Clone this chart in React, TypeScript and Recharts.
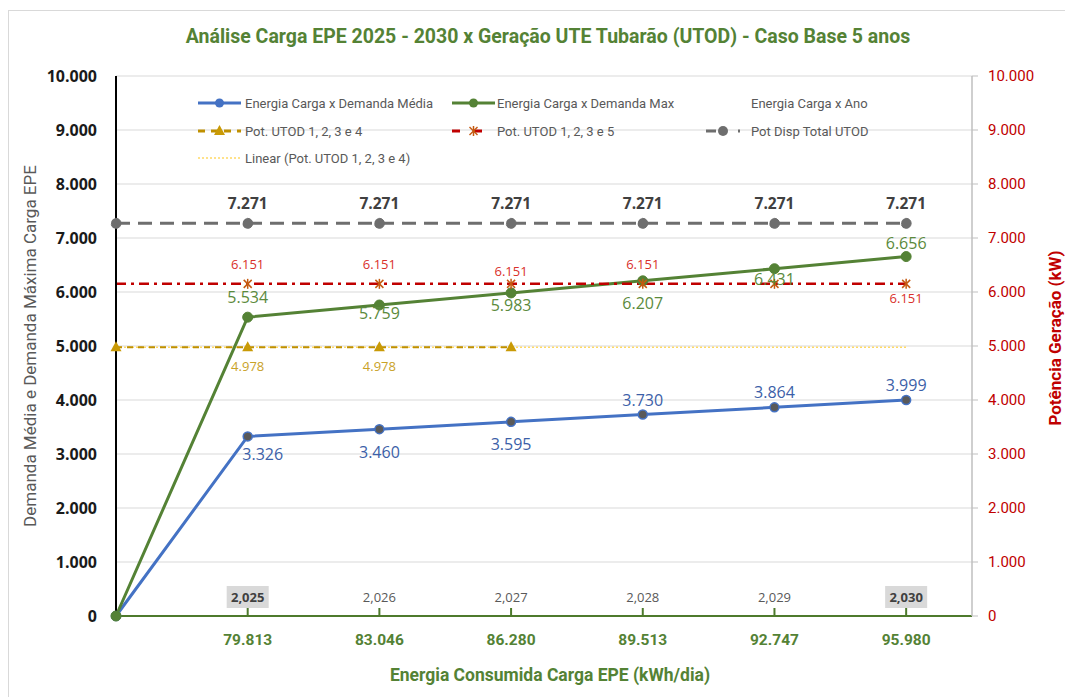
import {
  ComposedChart,
  Line,
  XAxis,
  YAxis,
  CartesianGrid,
  Legend,
  LabelList,
  Label,
} from "recharts";

// eixo X (energia consumida kWh/dia) e anos
const energia = ["0", "79.813", "83.046", "86.280", "89.513", "92.747", "95.980"];
const anos = [null, "2,025", "2,026", "2,027", "2,028", "2,029", "2,030"];

// séries
const demandaMedia = [0, 3326, 3460, 3595, 3730, 3864, 3999];
const demandaMax = [0, 5534, 5759, 5983, 6207, 6431, 6656];
const potUtod1234 = [4978, 4978, 4978, 4978, null, null, null];
const linearUtod1234 = [4978, 4978, 4978, 4978, 4978, 4978, 4978];
const potUtod1235 = [6151, 6151, 6151, 6151, 6151, 6151, 6151];
const potDispTotal = [7271, 7271, 7271, 7271, 7271, 7271, 7271];

const yTicks = [0, 1000, 2000, 3000, 4000, 5000, 6000, 7000, 8000, 9000, 10000];

// label placement per point (px, negative = above the point, null = no label)
const offMedia = [null, 18, 23, 22, -15, -15, -15];
const dxMedia = [0, 15, 0, 0, 0, 0, 0];
const offMax = [null, -20, 8, 12, 22, 10, -14];
const off1235 = [null, -20, -20, -13, -20, null, 14];
const off1234 = [null, 19, 19, null, null, null, null];
const offDisp = [null, -20, -20, -20, -20, -20, -20];
const anoDestaque = [false, true, false, false, false, false, true];

const TXT = "Roboto, 'Noto Sans', sans-serif";
const NUM = "'Open Sans', 'Noto Sans', sans-serif";

const fmt = (v: number) => String(v).replace(/\B(?=(\d{3})+(?!\d))/g, ".");

const data = energia.map((e, i) => ({
  idx: i,
  energia: e,
  media: demandaMedia[i],
  max: demandaMax[i],
  utod4: potUtod1234[i],
  trend: linearUtod1234[i],
  utod5: potUtod1235[i],
  disp: potDispTotal[i],
  ano: anos[i] === null ? null : 0,
}));

const getXY = (p: any) => {
  const vb = p.viewBox || {};
  return { x: p.x ?? vb.x, y: p.y ?? vb.y };
};

const makeLabel =
  (offs: (number | null)[], color: string, size: number, weight = "normal", dxs?: number[]) =>
  (p: any) => {
    const i = p.index;
    const off = offs[i];
    if (off == null || p.value == null) return null;
    const { x, y } = getXY(p);
    return (
      <text
        x={x + (dxs ? dxs[i] : 0)}
        y={y + off}
        textAnchor="middle"
        dominantBaseline="central"
        fill={color}
        fontSize={size}
        fontWeight={weight}
        fontFamily={NUM}
      >
        {fmt(p.value)}
      </text>
    );
  };

const anoLabel = (p: any) => {
  const i = p.index;
  if (anos[i] == null) return null;
  const { x, y } = getXY(p);
  const bold = anoDestaque[i];
  return (
    <g>
      {bold && <rect x={x - 21} y={y - 30} width={42} height={22} fill="#D9D9D9" />}
      <text
        x={x}
        y={y - 19}
        textAnchor="middle"
        dominantBaseline="central"
        fill={bold ? "#404040" : "#595959"}
        fontSize={13}
        fontWeight={bold ? "bold" : "normal"}
        fontFamily={NUM}
      >
        {anos[i]}
      </text>
    </g>
  );
};

const XTick = (props: any) => {
  const { x, y, payload } = props;
  return (
    <g>
      <line x1={x} x2={x} y1={y} y2={y - 8} stroke="#4E7A2C" strokeWidth={2} />
      <text
        x={x}
        y={y + 24}
        textAnchor="middle"
        dominantBaseline="central"
        fill="#548235"
        fontSize={15.5}
        fontWeight="bold"
        fontFamily={TXT}
      >
        {energia[payload.value]}
      </text>
    </g>
  );
};

const Asterisk = ({ cx, cy }: { cx: number; cy: number }) => (
  <g stroke="#C55A11" strokeWidth={1.5}>
    <line x1={cx - 4} y1={cy - 4} x2={cx + 4} y2={cy + 4} />
    <line x1={cx - 4} y1={cy + 4} x2={cx + 4} y2={cy - 4} />
    <line x1={cx} y1={cy - 5} x2={cx} y2={cy + 5} />
  </g>
);

const Triangle = ({ cx, cy }: { cx: number; cy: number }) => (
  <path d={`M${cx},${cy - 6} L${cx + 5.5},${cy + 4} L${cx - 5.5},${cy + 4} Z`} fill="#C99A06" />
);

const legendItems = [
  { name: "Energia Carga x Demanda Média", color: "#4472C4", dash: "", mark: "dotBlue" },
  { name: "Energia Carga x Demanda Max", color: "#548235", dash: "", mark: "dotGreen" },
  { name: "Energia Carga x Ano", color: "none", dash: "", mark: "none" },
  { name: "Pot. UTOD 1, 2, 3 e 4", color: "#BF9000", dash: "7 6", mark: "tri" },
  { name: "Pot. UTOD 1, 2, 3 e 5", color: "#C00000", dash: "8 14", mark: "star" },
  { name: "Pot Disp Total UTOD", color: "#6E6E6E", dash: "10 22", mark: "dotGray" },
  { name: "Linear (Pot. UTOD 1, 2, 3 e 4)", color: "#FFD966", dash: "2 2", mark: "none" },
];

const LegendBox = () => {
  const colX = [8, 262, 516];
  const textX = [55, 307, 561];
  const rowY = [13, 41, 68];
  return (
    <svg width={720} height={80} style={{ display: "block", overflow: "visible" }}>
      {legendItems.map((it, i) => {
        const c = i % 3;
        const r = Math.floor(i / 3);
        const x0 = colX[c];
        const x1 = x0 + (c === 2 ? 34 : 43);
        const y = rowY[r];
        const mid = (x0 + x1) / 2;
        return (
          <g key={it.name}>
            {it.color !== "none" && (
              <line
                x1={x0}
                x2={x1}
                y1={y}
                y2={y}
                stroke={it.color}
                strokeWidth={it.dash === "2 2" ? 1.5 : 3}
                strokeDasharray={it.dash || undefined}
              />
            )}
            {it.mark === "dotBlue" && <circle cx={mid} cy={y} r={4.5} fill="#4472C4" />}
            {it.mark === "dotGreen" && <circle cx={mid} cy={y} r={4.5} fill="#548235" />}
            {it.mark === "dotGray" && <circle cx={mid} cy={y} r={5} fill="#6E6E6E" />}
            {it.mark === "tri" && <Triangle cx={mid} cy={y} />}
            {it.mark === "star" && <Asterisk cx={mid} cy={y} />}
            <text
              x={textX[c]}
              y={y}
              dominantBaseline="central"
              fill="#595959"
              fontSize={13}
              fontFamily={TXT}
            >
              {it.name}
            </text>
          </g>
        );
      })}
    </svg>
  );
};

export default function App() {
  return (
    <div style={{ position: "absolute", left: 0, top: 0, width: 1065, height: 697, background: "#fff" }}>
      <div
        style={{
          position: "absolute",
          left: 8,
          top: 10,
          width: 1057,
          height: 687,
          borderLeft: "1px solid #D9D9D9",
          borderTop: "1px solid #D9D9D9",
          boxSizing: "border-box",
        }}
      />
      <div
        style={{
          position: "absolute",
          left: 0,
          top: 25,
          width: 1096,
          textAlign: "center",
          color: "#548235",
          fontFamily: TXT,
          fontWeight: "bold",
          fontSize: 19.5,
        }}
      >
        Análise Carga EPE 2025 - 2030 x Geração UTE Tubarão (UTOD) - Caso Base 5 anos
      </div>
      <ComposedChart
        width={1065}
        height={697}
        data={data}
        margin={{ top: 76, right: 0, bottom: 0, left: 0 }}
        style={{ position: "absolute", left: 0, top: 0 }}
      >
        <CartesianGrid yAxisId="left" vertical={false} stroke="#D9D9D9" strokeWidth={1.2} />
        <XAxis
          dataKey="idx"
          type="number"
          domain={[0, 6.5]}
          ticks={[1, 2, 3, 4, 5, 6]}
          interval={0}
          height={81}
          tickSize={0}
          tickMargin={0}
          tickLine={false}
          axisLine={{ stroke: "#4E7A2C", strokeWidth: 2 }}
          tick={<XTick />}
        >
          <Label
            content={() => (
              <text
                x={550}
                y={675}
                textAnchor="middle"
                dominantBaseline="central"
                fill="#548235"
                fontSize={17.5}
                fontWeight="bold"
                fontFamily={TXT}
              >
                Energia Consumida Carga EPE (kWh/dia)
              </text>
            )}
          />
        </XAxis>
        <YAxis
          yAxisId="left"
          domain={[0, 10000]}
          ticks={yTicks}
          width={116}
          tickSize={0}
          tickMargin={19}
          tickLine={false}
          axisLine={{ stroke: "#000", strokeWidth: 2 }}
          tickFormatter={fmt}
          tick={{ fill: "#1A1A1A", fontSize: 16, fontWeight: "bold", fontFamily: NUM }}
        >
          <Label
            content={(p: any) => {
              const vb = p.viewBox;
              const cy = vb.y + vb.height / 2;
              return (
                <text
                  x={30}
                  y={cy}
                  transform={`rotate(-90 30 ${cy})`}
                  textAnchor="middle"
                  dominantBaseline="central"
                  fill="#595959"
                  fontSize={17}
                  fontFamily={TXT}
                >
                  Demanda Média e Demanda Máxima Carga EPE
                </text>
              );
            }}
          />
        </YAxis>
        <YAxis
          yAxisId="right"
          orientation="right"
          domain={[0, 10000]}
          ticks={yTicks}
          width={93}
          tickSize={6}
          tickMargin={10}
          tickLine={{ stroke: "#BFBFBF" }}
          axisLine={{ stroke: "#BFBFBF", strokeWidth: 1.5 }}
          tickFormatter={fmt}
          tick={{ fill: "#C00000", fontSize: 15, fontFamily: TXT }}
        >
          <Label
            content={(p: any) => {
              const vb = p.viewBox;
              const cy = vb.y + vb.height / 2 - 8;
              return (
                <text
                  x={1055}
                  y={cy}
                  transform={`rotate(-90 1055 ${cy})`}
                  textAnchor="middle"
                  dominantBaseline="central"
                  fill="#C00000"
                  fontSize={17}
                  fontWeight="bold"
                  fontFamily={TXT}
                >
                  Potência Geração (kW)
                </text>
              );
            }}
          />
        </YAxis>
        <Legend
          layout="horizontal"
          verticalAlign="middle"
          align="center"
          content={() => <LegendBox />}
          wrapperStyle={{ position: "absolute", left: 190, top: 90, width: 720, height: 80 }}
        />

        <Line
          yAxisId="right"
          dataKey="trend"
          stroke="#FFD966"
          strokeWidth={1.5}
          strokeDasharray="2 2"
          dot={false}
          activeDot={false}
          isAnimationActive={false}
        />
        <Line
          yAxisId="right"
          dataKey="utod4"
          stroke="#BF9000"
          strokeWidth={2}
          strokeDasharray="6 5"
          dot={(p: any) =>
            p.cy == null ? <g key={p.index} /> : <Triangle key={p.index} cx={p.cx} cy={p.cy} />
          }
          activeDot={false}
          isAnimationActive={false}
        >
          <LabelList dataKey="utod4" content={makeLabel(off1234, "#C9A227", 13)} />
        </Line>
        <Line
          yAxisId="left"
          dataKey="media"
          stroke="#4472C4"
          strokeWidth={3}
          dot={{ r: 4.5, fill: "#595959", stroke: "#4472C4", strokeWidth: 1.5 }}
          activeDot={false}
          isAnimationActive={false}
        >
          <LabelList dataKey="media" content={makeLabel(offMedia, "#3C5FA8", 16, "normal", dxMedia)} />
        </Line>
        <Line
          yAxisId="left"
          dataKey="max"
          stroke="#548235"
          strokeWidth={3}
          dot={{ r: 5, fill: "#548235", stroke: "#548235", strokeWidth: 1 }}
          activeDot={false}
          isAnimationActive={false}
        >
          <LabelList dataKey="max" content={makeLabel(offMax, "#5B8A3C", 16)} />
        </Line>
        <Line
          yAxisId="right"
          dataKey="utod5"
          stroke="#C00000"
          strokeWidth={2.5}
          strokeDasharray="10 5 3 5"
          dot={(p: any) =>
            p.index === 0 || p.cy == null ? (
              <g key={p.index} />
            ) : (
              <Asterisk key={p.index} cx={p.cx} cy={p.cy} />
            )
          }
          activeDot={false}
          isAnimationActive={false}
        >
          <LabelList dataKey="utod5" content={makeLabel(off1235, "#D9302B", 13)} />
        </Line>
        <Line
          yAxisId="right"
          dataKey="disp"
          stroke="#6E6E6E"
          strokeWidth={3}
          strokeDasharray="14 8"
          dot={{ r: 5, fill: "#6E6E6E", stroke: "#6E6E6E", strokeWidth: 1 }}
          activeDot={false}
          isAnimationActive={false}
        >
          <LabelList dataKey="disp" content={makeLabel(offDisp, "#404040", 15.5, "bold")} />
        </Line>
        <Line
          yAxisId="left"
          dataKey="ano"
          stroke="none"
          dot={false}
          activeDot={false}
          isAnimationActive={false}
        >
          <LabelList dataKey="ano" content={anoLabel} />
        </Line>
      </ComposedChart>
    </div>
  );
}
